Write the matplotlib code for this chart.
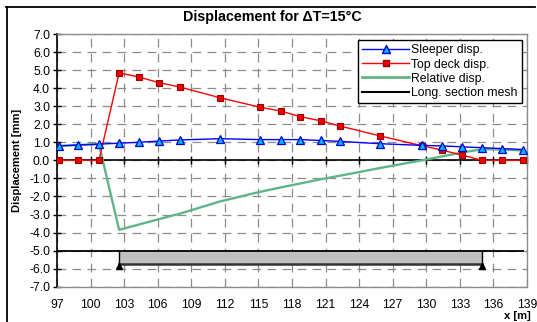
import matplotlib
matplotlib.use("Agg")
import matplotlib.pyplot as plt
from matplotlib.lines import Line2D

plt.rcParams['font.family'] = ['Liberation Sans', 'DejaVu Sans']

# ---- data ----
x_nodes = [97.2, 98.9, 100.75, 102.55, 104.35, 106.15, 108.0, 111.55, 115.1, 117.0,
           118.75, 120.55, 122.3, 125.9, 129.6, 131.4, 133.2, 135.0, 136.8, 138.6]
sleeper = [0.80, 0.85, 0.90, 0.95, 1.00, 1.07, 1.13, 1.20, 1.15, 1.15,
           1.15, 1.10, 1.05, 0.92, 0.83, 0.80, 0.75, 0.70, 0.65, 0.60]
top_deck = [0.0, 0.0, 0.0, 4.85, 4.61, 4.30, 4.06, 3.47, 2.95, 2.73,
            2.42, 2.19, 1.90, 1.35, 0.81, 0.57, 0.29, 0.0, 0.0, 0.0]
relative = [0.80, 0.85, 0.90, -3.85, -3.55, -3.25, -2.95, -2.28, -1.75, -1.50,
            -1.28, -1.05, -0.85, -0.42, 0.0, 0.22, 0.43, 0.62, 0.60, 0.55]

mesh_line_x = [97.0, 138.6]
mesh_level = -5.0
deck_x = [102.55, 135.0]
deck_bottom = -5.75
support_level = -5.85

xticks = list(range(97, 140, 3))
yticks = [v for v in range(-7, 8)]

# ---- figure ----
W, H = 537, 322
fig = plt.figure(figsize=(W / 100, H / 100), dpi=100)
ax = fig.add_axes([57 / W, 1 - 286.7 / H, 470 / W, 252.7 / H])

ax.set_xlim(97, 139)
ax.set_ylim(-7, 7)
ax.set_xticks(xticks)
ax.set_yticks(yticks)
ax.set_xticklabels([str(t) for t in xticks], fontsize=8.7)
ax.set_yticklabels([f"{t:.1f}" for t in yticks], fontsize=8.7)
ax.tick_params(axis='x', length=0, pad=8.5)
ax.tick_params(axis='y', direction='inout', length=6, width=1, color='black', pad=2)

ax.grid(True, color='#8c8c8c', linestyle=(0, (7, 5)), linewidth=0.9)
ax.set_axisbelow(True)
for s in ['top', 'right', 'bottom']:
    ax.spines[s].set_color('#8c8c8c')
    ax.spines[s].set_linewidth(1.0)
ax.spines['left'].set_color('black')
ax.spines['left'].set_linewidth(1.2)

# zero axis line with crossing ticks
ax.axhline(0, color='black', linewidth=1.2, zorder=2)
ax.plot(xticks, [0] * len(xticks), linestyle='none', marker='|', markersize=6,
        color='black', markeredgewidth=1.0, zorder=2, clip_on=False)

# mesh
ax.plot([mesh_line_x[0], deck_x[0]], [mesh_level, mesh_level], color='black', lw=1.3, zorder=3)
ax.plot([deck_x[1], mesh_line_x[1]], [mesh_level, mesh_level], color='black', lw=1.3, zorder=3)
ax.fill_between(deck_x, [mesh_level] * 2, [deck_bottom] * 2, color='#c0c0c0', zorder=3, lw=0)
ax.plot(deck_x, [mesh_level] * 2, color='black', lw=1.3, zorder=4)
ax.plot(deck_x, [deck_bottom] * 2, color='#333333', lw=1.8, zorder=4)
ax.plot([deck_x[0], deck_x[0]], [mesh_level, deck_bottom], color='black', lw=1.0, zorder=4)
ax.plot([deck_x[1], deck_x[1]], [mesh_level, deck_bottom], color='black', lw=1.0, zorder=4)
ax.plot(deck_x, [support_level] * 2, linestyle='none', marker='^', markersize=5,
        color='black', zorder=5)

# series
ax.plot(x_nodes, relative, color='#5fb585', lw=1.7, zorder=5)
ax.plot(x_nodes, top_deck, color='#ff0000', lw=1.0, marker='s', markersize=4.3,
        markerfacecolor='#ee0000', markeredgecolor='#990000', markeredgewidth=0.8, zorder=6)
ax.plot(x_nodes, sleeper, color='#0000ff', lw=1.0, marker='^', markersize=5.3,
        markerfacecolor='#00b4ff', markeredgecolor='#0000cc', markeredgewidth=0.9, zorder=7)

handles = [
    Line2D([], [], color='#0000ff', lw=1.0, marker='^', markersize=5.3,
           markerfacecolor='#00b4ff', markeredgecolor='#0000cc'),
    Line2D([], [], color='#ff0000', lw=1.0, marker='s', markersize=4.3,
           markerfacecolor='#ee0000', markeredgecolor='#990000'),
    Line2D([], [], color='#5fb585', lw=2.0),
    Line2D([], [], color='black', lw=1.5),
]
labels = ['Sleeper disp.', 'Top deck disp.', 'Relative disp.', 'Long. section mesh']
leg = ax.legend(handles, labels, loc='upper right', bbox_to_anchor=(0.989, 0.976),
                fontsize=8.8, handlelength=3.8, labelspacing=0.18, handletextpad=0.2,
                borderpad=0.35, borderaxespad=0, fancybox=False, framealpha=1,
                edgecolor='black')
leg.get_frame().set_linewidth(1.0)
leg.set_zorder(10)

fig.text(272 / W, 1 - 17 / H, 'Displacement for ΔT=15°C', ha='center', va='center',
         fontsize=10.3, fontweight='bold')
fig.text(17 / W, 1 - 160 / H, 'Displacement [mm]', ha='center', va='center',
         rotation=90, fontsize=8, fontweight='bold')
fig.text(517 / W, 1 - 316 / H, 'x [m]', ha='center', va='center',
         fontsize=8, fontweight='bold')

# outer frame (top and left visible)
fig.add_artist(Line2D([6 / W, 535 / W], [1 - 6.5 / H, 1 - 6.5 / H], color='black', lw=1.3))
fig.add_artist(Line2D([6.5 / W, 6.5 / W], [0, 1 - 6.5 / H], color='black', lw=1.3))

fig.savefig('out.png', dpi=100)
